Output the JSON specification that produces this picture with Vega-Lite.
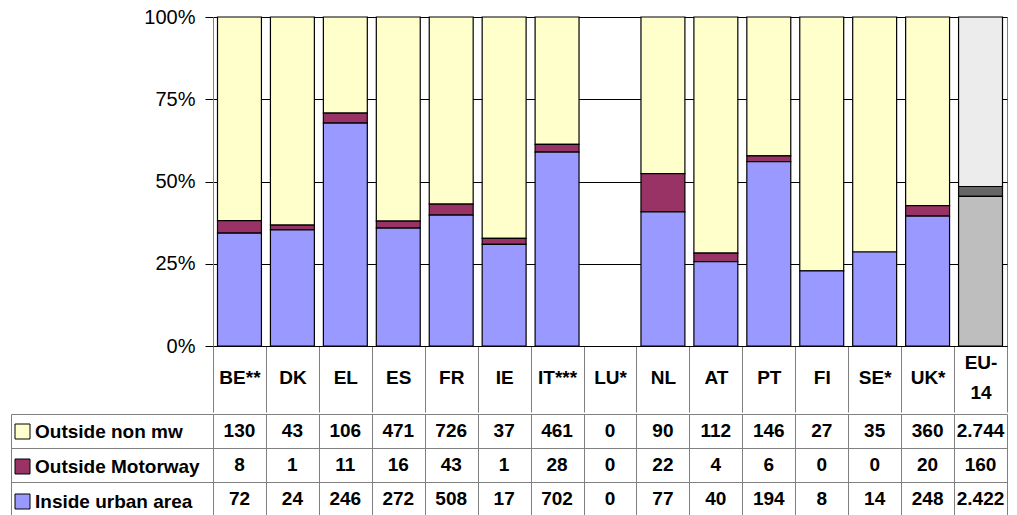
{
  "$schema": "https://vega.github.io/schema/vega-lite/v6.json",
  "padding": {"left": 10, "top": 6, "right": 8, "bottom": 0},
  "spacing": 0,
  "config": {
    "locale": {"number": {"decimal": ",", "thousands": ".", "grouping": [3], "currency": ["", " €"]}},
    "font": "Liberation Sans",
    "view": {"stroke": null}
  },
  "datasets": {
    "d": [
      {"country": "BE**", "series": "Outside non mw", "value": 130},
      {"country": "BE**", "series": "Outside Motorway", "value": 8},
      {"country": "BE**", "series": "Inside urban area", "value": 72},
      {"country": "DK", "series": "Outside non mw", "value": 43},
      {"country": "DK", "series": "Outside Motorway", "value": 1},
      {"country": "DK", "series": "Inside urban area", "value": 24},
      {"country": "EL", "series": "Outside non mw", "value": 106},
      {"country": "EL", "series": "Outside Motorway", "value": 11},
      {"country": "EL", "series": "Inside urban area", "value": 246},
      {"country": "ES", "series": "Outside non mw", "value": 471},
      {"country": "ES", "series": "Outside Motorway", "value": 16},
      {"country": "ES", "series": "Inside urban area", "value": 272},
      {"country": "FR", "series": "Outside non mw", "value": 726},
      {"country": "FR", "series": "Outside Motorway", "value": 43},
      {"country": "FR", "series": "Inside urban area", "value": 508},
      {"country": "IE", "series": "Outside non mw", "value": 37},
      {"country": "IE", "series": "Outside Motorway", "value": 1},
      {"country": "IE", "series": "Inside urban area", "value": 17},
      {"country": "IT***", "series": "Outside non mw", "value": 461},
      {"country": "IT***", "series": "Outside Motorway", "value": 28},
      {"country": "IT***", "series": "Inside urban area", "value": 702},
      {"country": "LU*", "series": "Outside non mw", "value": 0},
      {"country": "LU*", "series": "Outside Motorway", "value": 0},
      {"country": "LU*", "series": "Inside urban area", "value": 0},
      {"country": "NL", "series": "Outside non mw", "value": 90},
      {"country": "NL", "series": "Outside Motorway", "value": 22},
      {"country": "NL", "series": "Inside urban area", "value": 77},
      {"country": "AT", "series": "Outside non mw", "value": 112},
      {"country": "AT", "series": "Outside Motorway", "value": 4},
      {"country": "AT", "series": "Inside urban area", "value": 40},
      {"country": "PT", "series": "Outside non mw", "value": 146},
      {"country": "PT", "series": "Outside Motorway", "value": 6},
      {"country": "PT", "series": "Inside urban area", "value": 194},
      {"country": "FI", "series": "Outside non mw", "value": 27},
      {"country": "FI", "series": "Outside Motorway", "value": 0},
      {"country": "FI", "series": "Inside urban area", "value": 8},
      {"country": "SE*", "series": "Outside non mw", "value": 35},
      {"country": "SE*", "series": "Outside Motorway", "value": 0},
      {"country": "SE*", "series": "Inside urban area", "value": 14},
      {"country": "UK*", "series": "Outside non mw", "value": 360},
      {"country": "UK*", "series": "Outside Motorway", "value": 20},
      {"country": "UK*", "series": "Inside urban area", "value": 248},
      {"country": "EU-14", "series": "Outside non mw", "value": 2744},
      {"country": "EU-14", "series": "Outside Motorway", "value": 160},
      {"country": "EU-14", "series": "Inside urban area", "value": 2422}
    ]
  },
  "vconcat": [
    {
      "width": 794,
      "height": 329,
      "data": {"name": "d"},
      "view": {"stroke": "#808080"},
      "encoding": {
        "x": {
          "field": "country", "type": "nominal",
          "scale": {"domain": ["BE**", "DK", "EL", "ES", "FR", "IE", "IT***", "LU*", "NL", "AT", "PT", "FI", "SE*", "UK*", "EU-14"], "paddingInner": 0, "paddingOuter": 0},
          "axis": {
            "orient": "bottom", "title": null, "tickBand": "extent", "tickSize": 66, "tickColor": "#808080",
            "domainColor": "#000", "labelAngle": 0, "labelFont": "Liberation Sans", "labelFontWeight": "bold",
            "labelFontSize": 19, "labelColor": "#000",
            "labelPadding": {"condition": {"test": "datum.value === 'EU-14'", "value": -50}, "value": -35},
            "labelBaseline": "middle", "labelLimit": 0,
            "labelLineHeight": 30, "labelExpr": "datum.value === 'EU-14' ? ['EU-', '14'] : datum.value"
          }
        },
        "y": {
          "field": "value", "type": "quantitative", "stack": "normalize",
          "scale": {"domain": [0, 1]},
          "axis": {
            "values": [0, 0.25, 0.5, 0.75, 1], "format": ".0%", "title": null, "labelFont": "Liberation Sans",
            "labelFontSize": 20, "labelColor": "#000", "tickColor": "#000", "tickSize": 8, "labelPadding": 10,
            "domainColor": "#808080", "gridColor": "#000", "gridWidth": 1
          }
        },
        "order": {"field": "series", "sort": "ascending"}
      },
      "layer": [
        {
          "transform": [{"filter": "datum.country !== 'EU-14' && datum.value > 0"}],
          "mark": {"type": "bar", "width": {"band": 0.83}, "stroke": "#000", "strokeWidth": 1.2},
          "encoding": {
            "color": {
              "field": "series", "type": "nominal",
              "scale": {"domain": ["Outside non mw", "Outside Motorway", "Inside urban area"], "range": ["#FFFFCC", "#993366", "#9999FF"]},
              "legend": {
                "orient": "none", "legendX": -200, "legendY": 405, "title": null, "symbolType": "square",
                "symbolSize": 225, "symbolStrokeColor": "#000", "symbolStrokeWidth": 1, "symbolOpacity": 1,
                "labelFont": "Liberation Sans", "labelFontWeight": "bold", "labelFontSize": 19,
                "labelColor": "#000", "rowPadding": 15, "labelOffset": 3, "labelLimit": 300, "padding": 0
              }
            }
          }
        },
        {
          "transform": [{"filter": "datum.country === 'EU-14'"}],
          "mark": {"type": "bar", "width": {"band": 0.83}, "stroke": "#000", "strokeWidth": 1.2},
          "encoding": {
            "fill": {
              "field": "series", "type": "nominal",
              "scale": {"domain": ["Outside non mw", "Outside Motorway", "Inside urban area"], "range": ["#ECECEC", "#666666", "#BEBEBE"]},
              "legend": null
            }
          }
        }
      ]
    },
    {
      "width": 794,
      "height": 102,
      "data": {"name": "d"},
      "mark": {"type": "text", "font": "Liberation Sans", "fontWeight": "bold", "fontSize": 19, "color": "#000", "baseline": "middle"},
      "encoding": {
        "x": {
          "field": "country", "type": "nominal",
          "scale": {"domain": ["BE**", "DK", "EL", "ES", "FR", "IE", "IT***", "LU*", "NL", "AT", "PT", "FI", "SE*", "UK*", "EU-14"], "paddingInner": 0, "paddingOuter": 0},
          "axis": {"title": null, "labels": false, "ticks": false, "domain": false, "grid": true, "tickBand": "extent", "gridColor": "#808080", "gridOpacity": 1}
        },
        "y": {
          "field": "series", "type": "nominal",
          "scale": {"domain": ["Outside non mw", "Outside Motorway", "Inside urban area"], "paddingInner": 0, "paddingOuter": 0},
          "axis": {"title": null, "orient": "left", "offset": 202, "tickSize": -202, "tickBand": "extent", "labels": false,
                   "grid": true, "gridColor": "#808080", "gridOpacity": 1, "tickColor": "#808080", "domainColor": "#808080"}
        },
        "text": {"field": "value", "type": "quantitative", "format": ",d"}
      }
    }
  ]
}
